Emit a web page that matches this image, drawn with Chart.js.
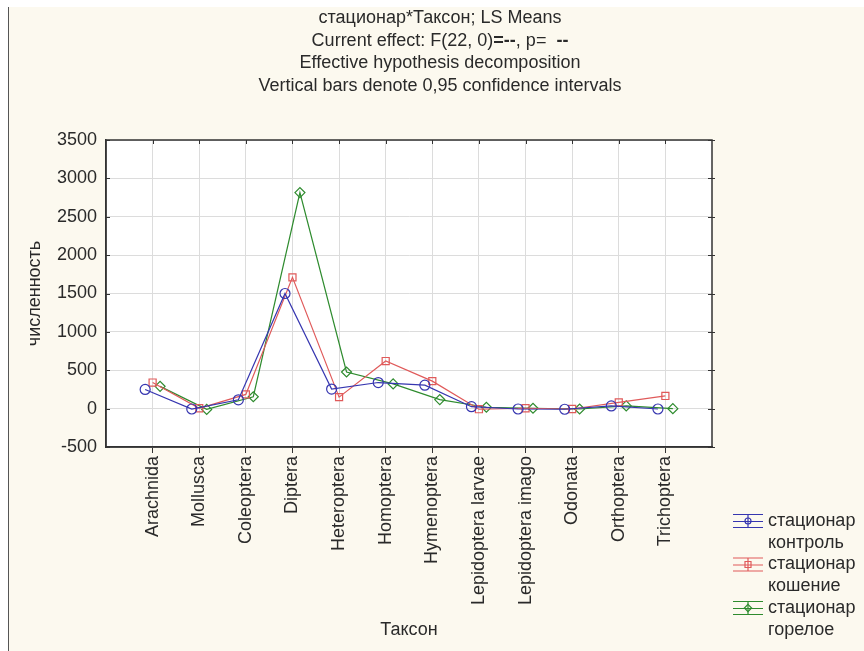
<!DOCTYPE html>
<html>
<head>
<meta charset="utf-8">
<script src="https://cdn.jsdelivr.net/npm/chart.js@4"></script>
<style>
  body { margin: 0; background: #fff; }
  canvas { display: block; }
</style>
</head>
<body>
<canvas id="chart" width="864" height="651"></canvas>
<script>
const taxa = ["Arachnida", "Mollusca", "Coleoptera", "Diptera", "Heteroptera", "Homoptera",
  "Hymenoptera", "Lepidoptera larvae", "Lepidoptera imago", "Odonata", "Orthoptera", "Trichoptera"];
const control = [250, -5, 115, 1500, 255, 340, 305, 25, -5, -8, 35, -5];
const mowing = [340, 5, 185, 1710, 150, 620, 358, -8, 5, -5, 82, 165];
const burnt = [290, -10, 155, 2815, 477, 322, 118, 18, 5, -5, 35, 0];
const seriesNames = [["стационар", "контроль"], ["стационар", "кошение"], ["стационар", "горелое"]];
const titleLines = ["стационар*Таксон; LS Means", "Current effect: F(22, 0)=--, p=  --",
  "Effective hypothesis decomposition", "Vertical bars denote 0,95 confidence intervals"];
const yMin = -500, yMax = 3500, yStep = 500;

const FONT = "'Liberation Sans', Arial, sans-serif";
const TEXT = "#2a2a2a";
const colors = ["#3636b0", "#e05a5a", "#2e8b2e"];
const styles = ["circle", "rect", "rectRot"];
const shift = [-0.16, 0, 0.16];

function points(values, k)
{
  return values.map((v, i) => ({x: i + 1 + shift[k], y: v}));
}

function drawMarker(ctx, style, x, y, r)
{
  ctx.beginPath();
  if (style === "circle")
    ctx.arc(x, y, r, 0, Math.PI * 2);
  else if (style === "rect")
    ctx.rect(x - r, y - r, r * 2, r * 2);
  else {
    ctx.moveTo(x, y - r * 1.2);
    ctx.lineTo(x + r * 1.2, y);
    ctx.lineTo(x, y + r * 1.2);
    ctx.lineTo(x - r * 1.2, y);
    ctx.closePath();
  }
  ctx.stroke();
}

const frame = {
  id: "frame",
  beforeDraw(chart)
  {
    const {ctx, chartArea: a} = chart;
    ctx.save();
    ctx.fillStyle = "#fff";
    ctx.fillRect(0, 0, chart.width, chart.height);
    ctx.fillStyle = "#fcf9ef";
    ctx.fillRect(8, 7, chart.width - 8, chart.height - 7);
    ctx.strokeStyle = "#555";
    ctx.lineWidth = 1;
    ctx.beginPath();
    ctx.moveTo(8.5, 7);
    ctx.lineTo(8.5, chart.height);
    ctx.stroke();
    ctx.fillStyle = "#fff";
    ctx.fillRect(a.left, a.top, a.right - a.left, a.bottom - a.top);
    ctx.restore();
  },
  afterDraw(chart)
  {
    const {ctx, chartArea: a} = chart;
    const xs = chart.scales.x, ys = chart.scales.y;
    ctx.save();
    ctx.strokeStyle = "#333";
    ctx.lineWidth = 1.5;
    ctx.strokeRect(a.left, a.top, a.right - a.left, a.bottom - a.top);

    // inner ticks on top, left and right sides
    ctx.lineWidth = 1;
    ctx.beginPath();
    taxa.forEach((t, i) => {
      const px = Math.round(xs.getPixelForValue(i + 1)) + 0.5;
      ctx.moveTo(px, a.top);
      ctx.lineTo(px, a.top + 4);
    });
    for (let v = yMin; v <= yMax; v += yStep) {
      const py = Math.round(ys.getPixelForValue(v)) + 0.5;
      ctx.moveTo(a.left, py);
      ctx.lineTo(a.left + 4, py);
      ctx.moveTo(a.right - 4, py);
      ctx.lineTo(a.right + 3, py);
    }
    ctx.stroke();

    // title
    ctx.fillStyle = TEXT;
    ctx.textBaseline = "middle";
    ctx.textAlign = "left";
    const cx = 440;
    titleLines.forEach((line, i) => {
      const y = 18 + i * 22.6;
      let parts = [[line, false]];
      if (i === 1)
        parts = [["Current effect: F(22, 0)", false], ["=--", true], [", p=  ", false], ["--", true]];
      let w = 0;
      parts.forEach(p => {
        ctx.font = (p[1] ? "bold " : "") + "18px " + FONT;
        w += ctx.measureText(p[0]).width;
      });
      let x = cx - w / 2;
      parts.forEach(p => {
        ctx.font = (p[1] ? "bold " : "") + "18px " + FONT;
        ctx.fillText(p[0], x, y);
        x += ctx.measureText(p[0]).width;
      });
    });

    // legend
    ctx.font = "18px " + FONT;
    seriesNames.forEach((name, k) => {
      const cy = 521 + k * 43.5;
      const x0 = 733, x1 = 763, xm = 748;
      ctx.strokeStyle = colors[k];
      ctx.lineWidth = 1.2;
      ctx.beginPath();
      ctx.moveTo(x0, cy - 6.5); ctx.lineTo(x1, cy - 6.5);
      ctx.moveTo(x0, cy + 0.5); ctx.lineTo(x1, cy + 0.5);
      ctx.moveTo(x0, cy + 6.5); ctx.lineTo(x1, cy + 6.5);
      ctx.moveTo(xm, cy - 6.5); ctx.lineTo(xm, cy + 6.5);
      ctx.stroke();
      drawMarker(ctx, styles[k], xm, cy, 3);
      ctx.fillStyle = TEXT;
      ctx.fillText(name[0], 768, cy);
      ctx.fillText(name[1], 768, cy + 22);
    });
    ctx.restore();
  },
};

const datasets = [control, mowing, burnt].map((values, k) => ({
  label: seriesNames[k].join(" "),
  data: points(values, k),
  borderColor: colors[k],
  borderWidth: 1.2,
  pointStyle: styles[k],
  pointRadius: 5,
  pointBorderWidth: 1.2,
  pointBorderColor: colors[k],
  pointBackgroundColor: "rgba(0,0,0,0)",
  tension: 0,
}));

new Chart(document.getElementById("chart"), {
  type: "line",
  data: {datasets: datasets},
  options: {
    responsive: false,
    animation: false,
    devicePixelRatio: 1,
    layout: {padding: {top: 140, right: 152, left: 0, bottom: 0}},
    plugins: {
      legend: {display: false},
      title: {display: false},
      tooltip: {enabled: false},
    },
    scales: {
      x: {
        type: "linear",
        min: 0,
        max: taxa.length + 1,
        afterBuildTicks(scale)
        {
          scale.ticks = taxa.map((t, i) => ({value: i + 1}));
        },
        afterFit(scale)
        {
          scale.height = 204;
        },
        ticks: {
          autoSkip: false,
          minRotation: 90,
          maxRotation: 90,
          padding: 3,
          color: TEXT,
          font: {family: FONT, size: 18},
          callback: v => taxa[v - 1] ?? "",
        },
        grid: {color: "#dcdcdc", tickColor: "#333", tickLength: 6},
        border: {color: "#333", width: 1.5},
        title: {
          display: true,
          text: "Таксон",
          color: TEXT,
          font: {family: FONT, size: 18},
          padding: {top: 0, bottom: 10},
        },
      },
      y: {
        min: yMin,
        max: yMax,
        afterFit(scale)
        {
          scale.width = 106;
        },
        ticks: {
          stepSize: yStep,
          padding: 9,
          color: TEXT,
          font: {family: FONT, size: 18},
          callback: v => String(v),
        },
        grid: {color: "#dcdcdc", drawTicks: false},
        border: {color: "#333", width: 1.5},
        title: {
          display: true,
          text: "численность",
          color: TEXT,
          font: {family: FONT, size: 18},
          padding: {top: 24, bottom: 0},
        },
      },
    },
  },
  plugins: [frame],
});
</script>
</body>
</html>
